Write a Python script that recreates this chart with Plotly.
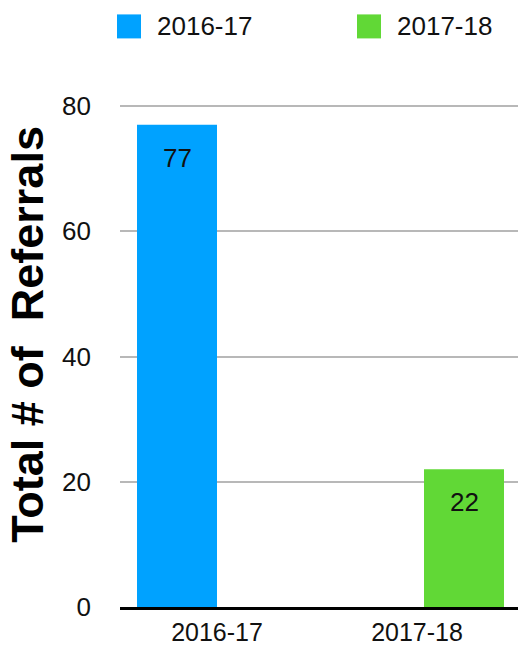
import plotly.graph_objects as go

# ---- data ----
categories = ["2016-17", "2017-18"]
series_names = ["2016-17", "2017-18"]
values = [77, 22]
colors = ["#00a2ff", "#61d836"]
y_ticks = [0, 20, 40, 60, 80]
y_title = "Total # of\u00a0 Referrals"

W, H = 518, 648
L, R, T, B = 120, 0, 80.6, 41.3
PW, PH = W - L - R, H - T - B

def px_x(px):
    return (px - L) / PW

def px_y(py):
    return (H - B - py) / PH

FONT = "Liberation Sans, Arial, Helvetica, sans-serif"

bar_width = 0.4
offsets = [-0.4, 0.035]

fig = go.Figure()
for i, (name, cat, val, col) in enumerate(zip(series_names, categories, values, colors)):
    fig.add_trace(go.Bar(
        x=[cat], y=[val], name=name, marker=dict(color=col, line=dict(width=0)),
        width=bar_width, offset=offsets[i], showlegend=False,
    ))
    fig.add_annotation(
        x=i + offsets[i] + bar_width / 2, y=val, xref="x", yref="y",
        text=str(val), showarrow=False, yanchor="top", yshift=-16,
        font=dict(size=26, color="#111111", family=FONT),
    )

# legend drawn manually (large square swatches)
legend_x = [117, 357]
for lx, name, col in zip(legend_x, series_names, colors):
    fig.add_shape(type="rect", xref="paper", yref="paper",
                  x0=px_x(lx), x1=px_x(lx + 24), y0=px_y(38), y1=px_y(14),
                  fillcolor=col, line=dict(width=0))
    fig.add_annotation(x=px_x(lx + 38), y=px_y(26), xref="paper", yref="paper",
                       text=name, showarrow=False, xanchor="left", yanchor="middle",
                       font=dict(size=26, color="#111111", family=FONT))

fig.add_annotation(x=px_x(27.5), y=px_y(334), xref="paper", yref="paper",
                   text="<b>" + y_title + "</b>", showarrow=False, textangle=-90,
                   xanchor="center", yanchor="middle",
                   font=dict(size=45, color="#000000", family=FONT))

fig.update_layout(
    width=W, height=H, margin=dict(l=L, r=R, t=T, b=B, autoexpand=False),
    plot_bgcolor="white", paper_bgcolor="white", barmode="overlay",
    font=dict(family=FONT, size=26, color="#111111"),
    showlegend=False,
)
fig.update_xaxes(
    type="category", categoryorder="array", categoryarray=categories,
    range=[-0.485, 1.505], showgrid=False, showline=True, linecolor="#000000",
    linewidth=2.5, ticks="", ticklabelstandoff=1, tickfont=dict(size=25, color="#111111"),
    zeroline=False,
)
fig.update_yaxes(
    range=[0, 84], tickvals=y_ticks, showgrid=True, gridcolor="#b8b8b8", gridwidth=2,
    zeroline=False, showline=False, ticks="", ticklabelstandoff=28,
    tickfont=dict(size=26, color="#111111"),
)

fig.write_html("out.html")
